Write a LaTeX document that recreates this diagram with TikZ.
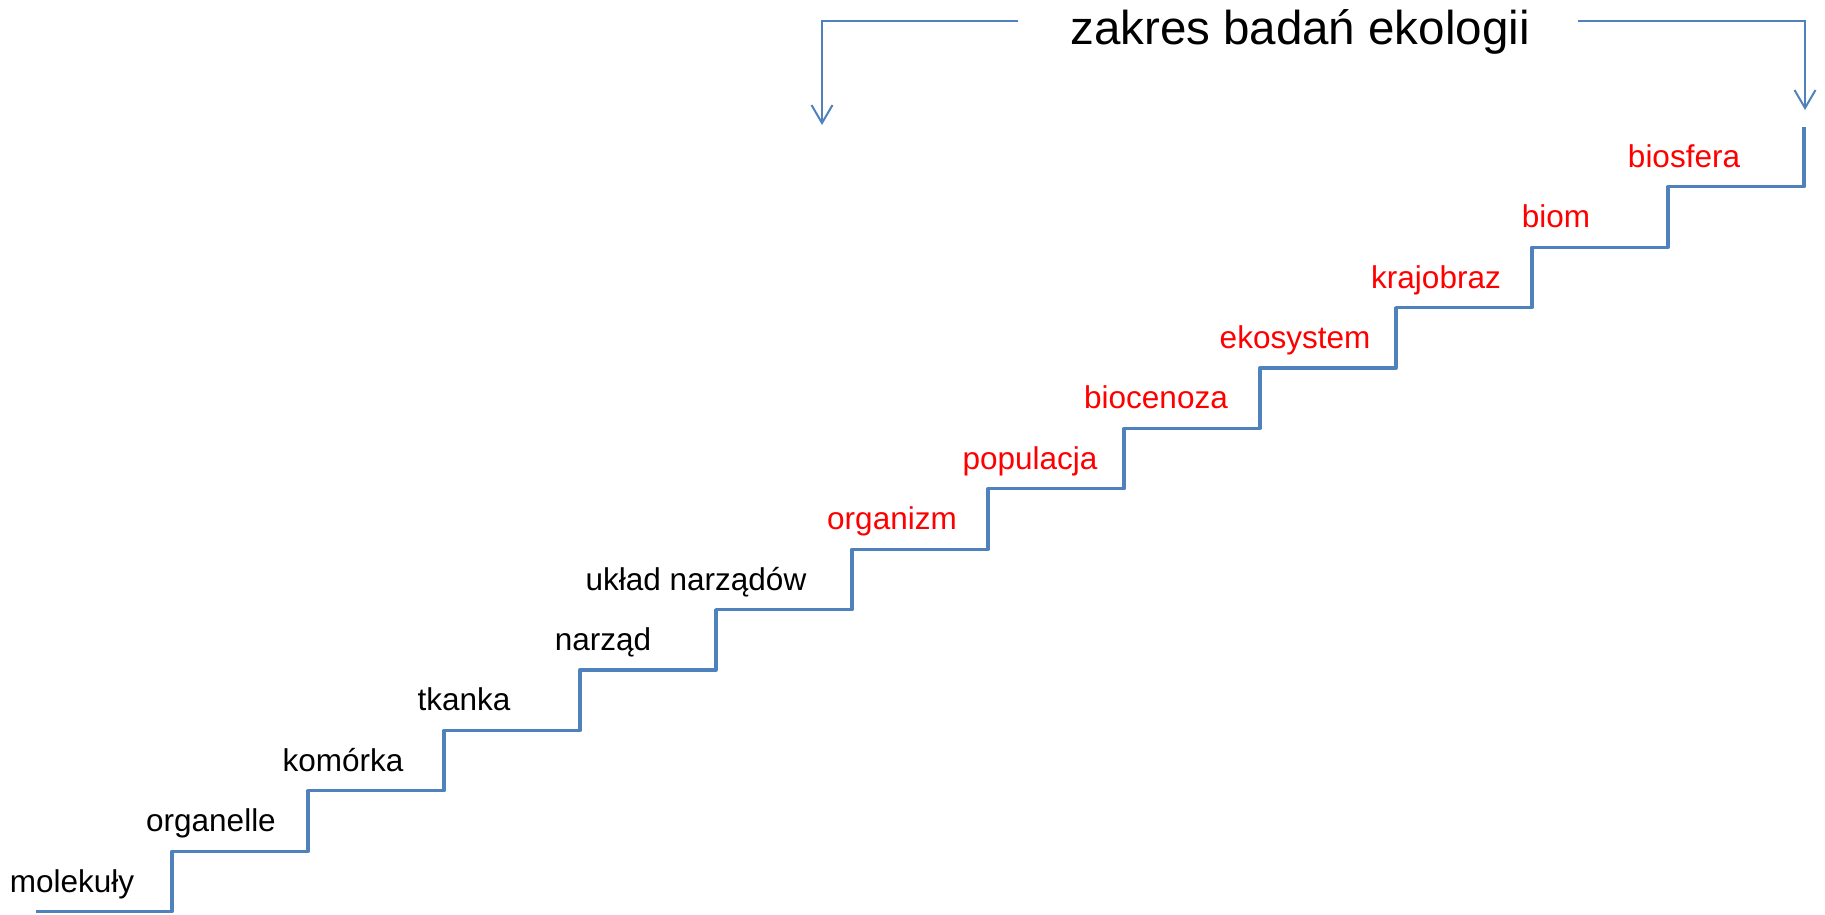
\documentclass[tikz,border=0pt]{standalone}
\usepackage{fontspec}
\setmainfont{Liberation Sans}
\usetikzlibrary{arrows.meta}
\definecolor{stairblue}{RGB}{79,129,189}
\begin{document}
\begin{tikzpicture}[x=1pt,y=-1pt,
  stair/.style={draw=stairblue,line width=3.3pt,line join=round},
  scopearrow/.style={draw=stairblue,line width=2pt,-{Straight Barb[length=18pt,width=21pt]}},
  lbl/.style={anchor=base,font=\fontsize{31.5}{36}\selectfont,inner sep=0pt},
  eco/.style={lbl,text=red},
  ttl/.style={anchor=base,font=\fontsize{47.5}{54}\selectfont,inner sep=0pt}]
\useasboundingbox (0,0) rectangle (1825,914);
% staircase
\draw[stair] (36,911.6) -| (172,851.2) -| (308,790.8) -| (444,730.4) -| (580,670.0)
  -| (716,609.6) -| (852,549.2) -| (988,488.8) -| (1124,428.4) -| (1260,368.0)
  -| (1396,307.6) -| (1532,247.2) -| (1668,186.8) -| (1804,126.7);
% labels
\node[lbl] (l0) at (72,892.1) {molekuły};
\node[lbl] (l1) at (211,831.7) {organelle};
\node[lbl] (l2) at (343,771.3) {komórka};
\node[lbl] (l3) at (464,710.9) {tkanka};
\node[lbl] (l4) at (603,650.5) {narząd};
\node[lbl] (l5) at (696,590.1) {układ narządów};
\node[eco] (l6) at (892,529.7) {organizm};
\node[eco] (l7) at (1030,469.3) {populacja};
\node[eco] (l8) at (1156,408.9) {biocenoza};
\node[eco] (l9) at (1295,348.5) {ekosystem};
\node[eco] (l10) at (1436,288.1) {krajobraz};
\node[eco] (l11) at (1556,227.7) {biom};
\node[eco] (l12) at (1684,167.3) {biosfera};
% title and range arrows
\node[ttl] (title) at (1300,44) {zakres badań ekologii};
\coordinate (lstart) at (1018,20.7);
\coordinate (ltip) at (822,125);
\coordinate (rstart) at (1578,20.7);
\coordinate (rtip) at (1805,110);
\draw[scopearrow] (lstart) -| (ltip);
\draw[scopearrow] (rstart) -| (rtip);
\end{tikzpicture}
\end{document}
